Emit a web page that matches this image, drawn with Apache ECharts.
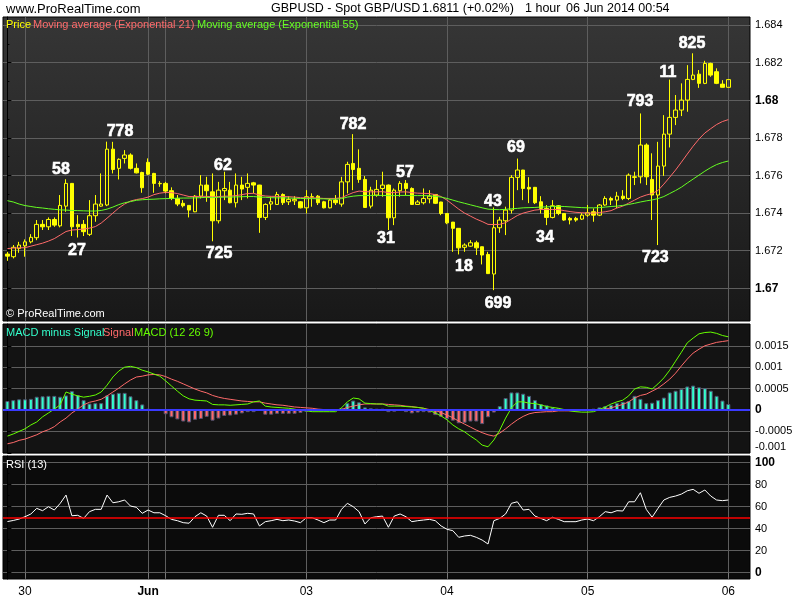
<!DOCTYPE html>
<html><head><meta charset="utf-8">
<script src="https://cdn.jsdelivr.net/npm/echarts@6/dist/echarts.min.js"></script>
<style>html,body{margin:0;padding:0;background:#fff}#c{width:800px;height:600px}</style>
</head><body><div id="c"></div>
<script>
// ---------- DATA ----------
const openP = [1.67182,1.67168,1.67212,1.67226,1.67247,1.67269,1.67340,1.67327,1.67366,1.67332,
1.67437,1.67558,1.67340,1.67340,1.67287,1.67386,1.67437,1.67443,1.67740,1.67638,
1.67691,1.67709,1.67638,1.67616,1.67670,1.67611,1.67558,1.67558,1.67519,1.67478,
1.67452,1.67441,1.67407,1.67490,1.67549,1.67513,1.67359,1.67519,1.67522,1.67455,
1.67549,1.67537,1.67561,1.67549,1.67377,1.67448,1.67446,1.67499,1.67460,1.67465,
1.67460,1.67428,1.67487,1.67490,1.67460,1.67428,1.67469,1.67448,1.67566,1.67664,
1.67638,1.67579,1.67437,1.67496,1.67531,1.67549,1.67375,1.67519,1.67558,1.67531,
1.67446,1.67455,1.67476,1.67499,1.67459,1.67398,1.67352,1.67319,1.67218,1.67224,
1.67242,1.67221,1.67180,1.67076,1.67322,1.67359,1.67416,1.67590,1.67629,1.67537,
1.67537,1.67460,1.67425,1.67377,1.67439,1.67398,1.67372,1.67372,1.67368,1.67389,
1.67407,1.67389,1.67443,1.67478,1.67469,1.67490,1.67478,1.67593,1.67593,1.67762,
1.67579,1.67496,1.67650,1.67820,1.67909,1.67948,1.68001,1.68111,1.68139,1.68090,
1.68196,1.68152,1.68086,1.68069];
const highP = [1.67194,1.67230,1.67247,1.67260,1.67288,1.67363,1.67363,1.67377,1.67377,1.67496,
1.67580,1.67560,1.67389,1.67363,1.67469,1.67496,1.67611,1.67780,1.67779,1.67691,
1.67735,1.67718,1.67664,1.67620,1.67691,1.67614,1.67570,1.67566,1.67537,1.67496,
1.67469,1.67441,1.67496,1.67602,1.67593,1.67611,1.67566,1.67620,1.67566,1.67611,
1.67593,1.67611,1.67566,1.67550,1.67452,1.67487,1.67513,1.67505,1.67490,1.67490,
1.67464,1.67522,1.67505,1.67496,1.67465,1.67478,1.67496,1.67593,1.67673,1.67820,
1.67739,1.67597,1.67540,1.67576,1.67620,1.67552,1.67531,1.67570,1.67576,1.67537,
1.67469,1.67531,1.67522,1.67500,1.67460,1.67400,1.67353,1.67320,1.67239,1.67256,
1.67253,1.67222,1.67194,1.67430,1.67380,1.67434,1.67602,1.67690,1.67630,1.67591,
1.67539,1.67490,1.67443,1.67469,1.67443,1.67400,1.67380,1.67380,1.67400,1.67443,
1.67425,1.67448,1.67490,1.67487,1.67513,1.67522,1.67611,1.67620,1.67930,1.67771,
1.67718,1.67779,1.67921,1.68110,1.68028,1.68090,1.68187,1.68250,1.68161,1.68210,
1.68200,1.68170,1.68107,1.68111];
const lowP = [1.67146,1.67159,1.67189,1.67168,1.67239,1.67256,1.67310,1.67310,1.67327,1.67324,
1.67407,1.67278,1.67270,1.67278,1.67278,1.67354,1.67434,1.67437,1.67611,1.67579,
1.67664,1.67632,1.67611,1.67508,1.67602,1.67508,1.67540,1.67505,1.67469,1.67437,
1.67430,1.67377,1.67405,1.67478,1.67460,1.67250,1.67345,1.67469,1.67452,1.67430,
1.67469,1.67478,1.67505,1.67295,1.67363,1.67416,1.67443,1.67443,1.67443,1.67443,
1.67425,1.67398,1.67434,1.67443,1.67425,1.67425,1.67443,1.67434,1.67505,1.67522,
1.67561,1.67428,1.67425,1.67487,1.67487,1.67310,1.67336,1.67487,1.67496,1.67443,
1.67443,1.67446,1.67452,1.67448,1.67389,1.67341,1.67194,1.67180,1.67194,1.67221,
1.67177,1.67127,1.67076,1.66990,1.67295,1.67283,1.67398,1.67522,1.67469,1.67453,
1.67448,1.67398,1.67336,1.67372,1.67389,1.67359,1.67340,1.67354,1.67363,1.67380,
1.67354,1.67384,1.67439,1.67443,1.67427,1.67469,1.67469,1.67549,1.67558,1.67549,
1.67363,1.67230,1.67598,1.67749,1.67868,1.67916,1.67939,1.68107,1.68066,1.68086,
1.68125,1.68086,1.68069,1.68068];
const closeP = [1.67171,1.67218,1.67230,1.67247,1.67271,1.67340,1.67327,1.67366,1.67336,1.67441,
1.67558,1.67327,1.67327,1.67301,1.67386,1.67448,1.67448,1.67740,1.67632,1.67686,
1.67709,1.67638,1.67614,1.67535,1.67607,1.67558,1.67556,1.67517,1.67478,1.67448,
1.67439,1.67416,1.67490,1.67549,1.67519,1.67359,1.67522,1.67531,1.67455,1.67549,
1.67528,1.67558,1.67549,1.67377,1.67446,1.67460,1.67499,1.67455,1.67473,1.67473,
1.67428,1.67487,1.67485,1.67455,1.67428,1.67469,1.67455,1.67566,1.67659,1.67632,
1.67579,1.67430,1.67522,1.67526,1.67549,1.67375,1.67522,1.67558,1.67531,1.67446,
1.67459,1.67478,1.67490,1.67452,1.67398,1.67348,1.67319,1.67215,1.67230,1.67242,
1.67215,1.67177,1.67078,1.67322,1.67363,1.67416,1.67590,1.67629,1.67531,1.67528,
1.67455,1.67425,1.67377,1.67439,1.67398,1.67363,1.67363,1.67363,1.67389,1.67402,
1.67389,1.67443,1.67478,1.67469,1.67490,1.67478,1.67602,1.67590,1.67762,1.67593,
1.67496,1.67650,1.67820,1.67909,1.67948,1.68001,1.68111,1.68134,1.68090,1.68196,
1.68134,1.68090,1.68069,1.68110];
const ema21 = [1.67211,1.67214,1.67215,1.67216,1.67224,1.67232,1.67240,1.67251,1.67264,1.67283,
1.67302,1.67310,1.67312,1.67315,1.67320,1.67328,1.67347,1.67373,1.67400,1.67427,
1.67448,1.67464,1.67472,1.67477,1.67485,1.67498,1.67506,1.67510,1.67509,1.67504,
1.67496,1.67488,1.67488,1.67489,1.67489,1.67486,1.67488,1.67490,1.67490,1.67493,
1.67498,1.67504,1.67505,1.67496,1.67491,1.67489,1.67489,1.67488,1.67487,1.67485,
1.67482,1.67481,1.67481,1.67480,1.67478,1.67478,1.67478,1.67482,1.67496,1.67509,
1.67517,1.67514,1.67513,1.67513,1.67514,1.67509,1.67509,1.67512,1.67513,1.67509,
1.67506,1.67505,1.67504,1.67498,1.67488,1.67469,1.67445,1.67421,1.67400,1.67384,
1.67368,1.67355,1.67340,1.67339,1.67340,1.67349,1.67368,1.67387,1.67400,1.67408,
1.67416,1.67419,1.67419,1.67419,1.67419,1.67413,1.67408,1.67404,1.67402,1.67400,
1.67400,1.67403,1.67407,1.67413,1.67427,1.67437,1.67453,1.67469,1.67485,1.67496,
1.67504,1.67520,1.67554,1.67591,1.67629,1.67671,1.67714,1.67756,1.67794,1.67826,
1.67849,1.67871,1.67887,1.67897];
const ema55 = [1.67466,1.67459,1.67448,1.67440,1.67435,1.67430,1.67427,1.67423,1.67420,1.67417,
1.67416,1.67414,1.67413,1.67412,1.67411,1.67411,1.67414,1.67421,1.67432,1.67445,
1.67455,1.67461,1.67468,1.67471,1.67473,1.67474,1.67476,1.67477,1.67478,1.67479,
1.67480,1.67480,1.67481,1.67482,1.67484,1.67482,1.67484,1.67485,1.67485,1.67486,
1.67487,1.67488,1.67488,1.67485,1.67484,1.67482,1.67481,1.67481,1.67480,1.67479,
1.67478,1.67477,1.67477,1.67476,1.67476,1.67474,1.67474,1.67477,1.67485,1.67490,
1.67493,1.67493,1.67494,1.67494,1.67494,1.67493,1.67493,1.67494,1.67494,1.67493,
1.67493,1.67493,1.67492,1.67489,1.67485,1.67478,1.67469,1.67460,1.67452,1.67444,
1.67436,1.67428,1.67421,1.67419,1.67418,1.67420,1.67423,1.67425,1.67428,1.67429,
1.67430,1.67432,1.67433,1.67435,1.67436,1.67435,1.67433,1.67431,1.67429,1.67428,
1.67428,1.67429,1.67432,1.67435,1.67437,1.67441,1.67446,1.67452,1.67459,1.67465,
1.67470,1.67477,1.67488,1.67504,1.67520,1.67538,1.67560,1.67581,1.67602,1.67623,
1.67642,1.67658,1.67669,1.67677];
const macdLine = [-0.00061,-0.00056,-0.00050,-0.00044,-0.00035,-0.00028,-0.00016,-0.00007,0.00002,0.00012,
0.00042,0.00037,0.00033,0.00030,0.00032,0.00035,0.00042,0.00058,0.00077,0.00091,
0.00100,0.00102,0.00099,0.00093,0.00089,0.00084,0.00079,0.00068,0.00056,0.00044,
0.00033,0.00026,0.00023,0.00022,0.00021,0.00013,0.00012,0.00012,0.00011,0.00012,
0.00013,0.00014,0.00019,0.00021,0.00009,0.00007,0.00006,0.00005,0.00004,0.00002,
-0.00001,-0.00002,-0.00004,-0.00004,-0.00004,-0.00004,-0.00004,0.00005,0.00019,0.00028,
0.00026,0.00016,0.00015,0.00014,0.00014,0.00009,0.00009,0.00009,0.00008,0.00007,
0.00006,0.00004,-0.00001,-0.00007,-0.00014,-0.00023,-0.00035,-0.00044,-0.00051,-0.00061,
-0.00070,-0.00082,-0.00086,-0.00070,-0.00047,-0.00019,0.00005,0.00019,0.00019,0.00016,
0.00015,0.00012,0.00008,0.00006,0.00004,0.00001,-0.00002,-0.00004,-0.00005,-0.00005,
-0.00004,0.00001,0.00007,0.00014,0.00019,0.00023,0.00033,0.00049,0.00054,0.00053,
0.00049,0.00061,0.00075,0.00093,0.00114,0.00135,0.00157,0.00168,0.00178,0.00181,
0.00182,0.00179,0.00174,0.00171];
const signalLine = [-0.00079,-0.00076,-0.00071,-0.00068,-0.00063,-0.00058,-0.00051,-0.00046,-0.00039,-0.00028,
-0.00019,-0.00007,0.00002,0.00012,0.00018,0.00021,0.00025,0.00033,0.00042,0.00051,
0.00061,0.00070,0.00077,0.00079,0.00082,0.00083,0.00082,0.00078,0.00072,0.00067,
0.00061,0.00055,0.00049,0.00044,0.00040,0.00034,0.00030,0.00027,0.00025,0.00023,
0.00021,0.00020,0.00019,0.00019,0.00016,0.00014,0.00012,0.00011,0.00009,0.00007,
0.00006,0.00005,0.00004,0.00002,0.00001,0,0,0.00001,0.00006,0.00009,
0.00012,0.00014,0.00014,0.00014,0.00014,0.00013,0.00012,0.00011,0.00009,0.00008,
0.00006,0.00004,0.00001,-0.00001,-0.00006,-0.00012,-0.00018,-0.00026,-0.00033,-0.00040,
-0.00047,-0.00053,-0.00058,-0.00061,-0.00054,-0.00044,-0.00033,-0.00023,-0.00015,-0.00009,
-0.00006,-0.00005,-0.00004,-0.00004,-0.00002,-0.00002,-0.00002,-0.00002,-0.00001,-0.00001,
0,0.00001,0.00002,0.00005,0.00009,0.00013,0.00019,0.00028,0.00034,0.00037,
0.00044,0.00051,0.00061,0.00072,0.00086,0.00103,0.00119,0.00133,0.00142,0.00150,
0.00154,0.00158,0.00160,0.00162];
const macdHist = [0.00021,0.00023,0.00025,0.00025,0.00026,0.00031,0.00032,0.00033,0.00033,0.00031,
0.00034,0.00044,0.00035,0.00023,0.00015,0.00016,0.00016,0.00034,0.00038,0.00040,
0.00040,0.00032,0.00023,0.00013,0.00003,0.00001,-0.00002,-0.00010,-0.00017,-0.00022,
-0.00027,-0.00029,-0.00023,-0.00021,-0.00016,-0.00025,-0.00020,-0.00014,-0.00013,-0.00011,
-0.00008,-0.00005,-0.00005,0.00002,-0.00011,-0.00011,-0.00009,-0.00009,-0.00009,-0.00009,
-0.00007,-0.00004,-0.00003,-0.00002,-0.00002,-0.00001,-0.00001,0.00004,0.00016,0.00022,
0.00018,0.00006,0.00004,0.00003,0.00003,-0.00005,-0.00004,0,-0.00005,-0.00008,
-0.00006,-0.00005,-0.00006,-0.00012,-0.00016,-0.00021,-0.00025,-0.00031,-0.00030,-0.00027,
-0.00027,-0.00033,-0.00017,-0.00006,0.00009,0.00028,0.00041,0.00041,0.00038,0.00033,
0.00023,0.00014,0.00011,0.00006,0.00004,0.00002,-0.00002,-0.00002,-0.00002,0,
0.00003,0.00006,0.00009,0.00012,0.00016,0.00019,0.00021,0.00033,0.00026,0.00016,
0.00017,0.00023,0.00029,0.00041,0.00045,0.00049,0.00055,0.00057,0.00053,0.00051,
0.00045,0.00033,0.00022,0.00014];
const rsi13 = [46.5,47.5,48.8,50.9,53.4,58.5,56.4,60,57,63,
70.6,51.8,52.2,49.4,55.5,57.6,57.6,70.6,63.6,64.5,
66.1,60.6,59.5,54,57,54.5,54.5,51.8,48.5,47.3,
45.5,45,50.9,54.5,51.5,41.3,52.2,52.2,47.3,53.4,
53.1,54,53.4,42.5,46.4,47.3,48.5,47.3,47.9,47,
45.5,50,50,47.9,45.5,47.9,47.9,57.6,63.1,60,
55.5,44.3,50,50.9,51.5,41.3,51.5,53.4,50.9,46.4,
47.3,47.9,48.5,47.3,42.5,39.5,38.2,32.2,33.4,34,
32.2,29.7,26.1,47.3,49.4,53.4,63.1,64.5,57,57.6,
51.5,49.4,47.3,50.4,48.5,46.4,46.4,46.4,47.9,48.8,
47.3,50.9,55.5,54.5,56.4,56.1,64.5,64.5,72.7,57.6,
50.4,58.5,66.1,68.5,69.7,71.5,74.5,75.8,72.2,75.2,
69.7,66.1,65.5,66.1];
// annotation labels: [bar index, price, text]
const annotations = [[9.14,1.67629,'58'],[11.87,1.67203,'27'],[19.21,1.67836,'778'],[36.78,1.67655,'62'],
[36.1,1.67182,'725'],[58.96,1.67873,'782'],[64.59,1.67262,'31'],[67.83,1.67613,'57'],[77.9,1.67118,'18'],
[83.7,1.66916,'699'],[86.77,1.67746,'69'],[82.85,1.67459,'43'],[91.72,1.67267,'34'],[107.93,1.67992,'793'],
[110.56,1.67161,'723'],[112.7,1.68145,'11'],[116.8,1.68299,'825']];
const priceTicks = [1.670,1.672,1.674,1.676,1.678,1.680,1.682,1.684];
const macdTicks = [-0.001,-0.0005,0,0.0005,0.001,0.0015];
const rsiTicks = [0,20,40,60,80,100];
const dayGridIdx = [3,24,27,51,75,99,123];
const dayLabelIdx = [3,24,51,75,99,123];
const dayLabelText = ['30','Jun','03','04','05','06'];

// ---------- CHART ----------
const FF = '"Liberation Sans", Arial, sans-serif';
const XMIN = -0.754, XMAX = 126.7;
const gridCol = '#5e5e5e';
const chart = echarts.init(document.getElementById('c'), null, {renderer:'canvas'});

const candleData = openP.map((o,i)=>[i,o,closeP[i],lowP[i],highP[i]]);
const pair = arr => arr.map((v,i)=>[i,v]);

function xAxisFor(g){
  const bottom = g===2;
  return {type:'value', gridIndex:g, min:XMIN, max:XMAX,
    axisLine:{show:false},
    axisTick:{show:bottom, customValues:dayGridIdx, length:5, lineStyle:{color:'#7a7a7a'}},
    axisLabel:{show:bottom, customValues:dayLabelIdx, margin:7, color:'#000', fontSize:12, fontFamily:FF,
      formatter:v=>{const k=dayLabelIdx.indexOf(Math.round(v)); const t=k>=0?dayLabelText[k]:''; return t==='Jun'?'{b|Jun}':t;},
      rich:{b:{fontWeight:'bold', fontSize:12, color:'#000', fontFamily:FF}}},
    splitLine:{show:true, lineStyle:{color:gridCol, width:1}}};
}
function fmtNum(v, dec){ return String(parseFloat(v.toFixed(dec))); }

const option = {
  animation:false,
  backgroundColor:'#ffffff',
  grid:[
    {left:3, right:50, top:17, height:304, show:true, borderColor:'#000', borderWidth:1,
      backgroundColor:{type:'linear',x:0,y:0,x2:0,y2:1,colorStops:[{offset:0,color:'#363636'},{offset:1,color:'#181818'}]}},
    {left:3, right:50, top:324, height:129, show:true, borderColor:'#000', borderWidth:1, backgroundColor:'#131313'},
    {left:3, right:50, top:456, height:123, show:true, borderColor:'#000', borderWidth:1, backgroundColor:'#0b0b0b'}
  ],
  xAxis:[xAxisFor(0), xAxisFor(1), xAxisFor(2)],
  yAxis:[
    {type:'value', gridIndex:0, position:'right', min:1.66826, max:1.68443, minInterval:0.002, maxInterval:0.002,
      axisLine:{show:true, lineStyle:{color:'#000'}},
      axisTick:{show:true, length:4, customValues:priceTicks, lineStyle:{color:'#000'}},
      minorTick:{show:true, splitNumber:2, length:2, lineStyle:{color:'#000'}},
      axisLabel:{customValues:priceTicks, margin:5, color:'#000', fontSize:11, fontFamily:FF,
        formatter:v=>{const s=fmtNum(v,4); return Math.abs(v*100-Math.round(v*100))<1e-6?'{b|'+s+'}':s;},
        rich:{b:{fontWeight:'bold', fontSize:12, color:'#000', fontFamily:FF}}},
      splitLine:{show:true, lineStyle:{color:gridCol, width:1}}},
    {type:'value', gridIndex:1, position:'right', min:-0.001005, max:0.002009, minInterval:0.0005, maxInterval:0.0005,
      axisLine:{show:true, lineStyle:{color:'#000'}},
      axisTick:{show:true, length:4, customValues:macdTicks, lineStyle:{color:'#000'}},
      axisLabel:{customValues:macdTicks, margin:5, color:'#000', fontSize:11, fontFamily:FF,
        formatter:v=>{const s=fmtNum(v,5); if(Math.abs(v)<1e-9) return '{b|0}'; return v<-0.00099?'{u|'+s+'}':s;},
        rich:{b:{fontWeight:'bold', fontSize:12, color:'#000', fontFamily:FF},
              u:{fontSize:11, color:'#000', fontFamily:FF, padding:[0,0,12,0]}}},
      splitLine:{show:true, lineStyle:{color:gridCol, width:1}}},
    {type:'value', gridIndex:2, position:'right', min:-5.7, max:106.1, minInterval:20, maxInterval:20,
      axisLine:{show:true, lineStyle:{color:'#000'}},
      axisTick:{show:true, length:4, customValues:rsiTicks, lineStyle:{color:'#000'}},
      minorTick:{show:true, splitNumber:2, length:2, lineStyle:{color:'#000'}},
      axisLabel:{customValues:rsiTicks, margin:5, color:'#000', fontSize:11, fontFamily:FF,
        formatter:v=>{const s=fmtNum(v,1); return (v===0||v===100)?'{b|'+s+'}':s;},
        rich:{b:{fontWeight:'bold', fontSize:12, color:'#000', fontFamily:FF}}},
      splitLine:{show:true, lineStyle:{color:gridCol, width:1}}}
  ],
  series:[
    {type:'line', name:'EMA21', xAxisIndex:0, yAxisIndex:0, data:pair(ema21), symbol:'none',
      lineStyle:{color:'#ff6a6a', width:1}},
    {type:'line', name:'EMA55', xAxisIndex:0, yAxisIndex:0, data:pair(ema55), symbol:'none',
      lineStyle:{color:'#66ff22', width:1}},
    {type:'candlestick', name:'Price', xAxisIndex:0, yAxisIndex:0, data:candleData,
      encode:{x:0, y:[1,2,3,4]}, barWidth:4,
      itemStyle:{color:'rgba(0,0,0,0)', color0:'#ffff00', borderColor:'#ffff00', borderColor0:'#ffff00', borderWidth:1}},
    {type:'scatter', name:'labels', xAxisIndex:0, yAxisIndex:0, data:annotations, symbolSize:1,
      itemStyle:{color:'rgba(0,0,0,0)'}, z:10,
      label:{show:true, position:'inside', formatter:p=>p.value[2], color:'#ffffff', fontSize:16, fontWeight:'bold', fontFamily:FF,
        textBorderWidth:0.6, textBorderColor:'#ffffff', textShadowBlur:0, opacity:1}},
    {type:'bar', name:'MACD minus Signal', xAxisIndex:1, yAxisIndex:1, data:pair(macdHist), barWidth:4,
      itemStyle:{color:p=>p.value[1]>=0?'#33ffcc':'#ff6a6a', borderColor:p=>p.value[1]>=0?'#0a8a74':'#a03030', borderWidth:1},
      markLine:{silent:true, symbol:'none', data:[{yAxis:0}], label:{show:false},
        lineStyle:{color:'#3a3aff', width:2, type:'solid'}}},
    {type:'line', name:'Signal', xAxisIndex:1, yAxisIndex:1, data:pair(signalLine), symbol:'none',
      lineStyle:{color:'#ff6a6a', width:1}},
    {type:'line', name:'MACD', xAxisIndex:1, yAxisIndex:1, data:pair(macdLine), symbol:'none',
      lineStyle:{color:'#66ff00', width:1}},
    {type:'line', name:'RSI', xAxisIndex:2, yAxisIndex:2, data:pair(rsi13), symbol:'none',
      lineStyle:{color:'#ffffff', width:1},
      markLine:{silent:true, symbol:'none', data:[{yAxis:50}], label:{show:false},
        lineStyle:{color:'#ff0000', width:1.5, type:'solid'}}}
  ],
  graphic:[]
};

function txt(x,y,s,color,font){
  return {type:'text', x:x, y:y, z:100, silent:true, style:{text:s, fill:color, font:font, verticalAlign:'middle', align:'left'}};
}
const wwwFont = '13px "Liberation Sans", Arial, sans-serif';
const hdrFont = '12.5px "Liberation Sans", Arial, sans-serif';
const legFont = '11px "Liberation Sans", Arial, sans-serif';
option.graphic = [
  txt(6,9,'www.ProRealTime.com','#000',wwwFont),
  txt(271,9,'GBPUSD - Spot GBP/USD','#000',hdrFont),
  txt(422,9,'1.6811 (+0.02%)','#000',hdrFont),
  txt(525,9,'1 hour','#000',hdrFont),
  txt(566,9,'06 Jun 2014 00:54','#000',hdrFont),
  txt(6,25,'Price','#ffff00',legFont),
  txt(33,25,'Moving average (Exponential 21)','#ff6a6a',legFont),
  txt(197,25,'Moving average (Exponential 55)','#66ff22',legFont),
  txt(6,314,'\u00a9 ProRealTime.com','#ffffff',legFont),
  txt(6,333,'MACD minus Signal','#33ffcc',legFont),
  txt(103,333,'Signal','#ff6a6a',legFont),
  txt(134,333,'MACD (12 26 9)','#66ff00',legFont),
  txt(6,465,'RSI (13)','#ffffff',legFont)
];
chart.setOption(option);
</script></body></html>
